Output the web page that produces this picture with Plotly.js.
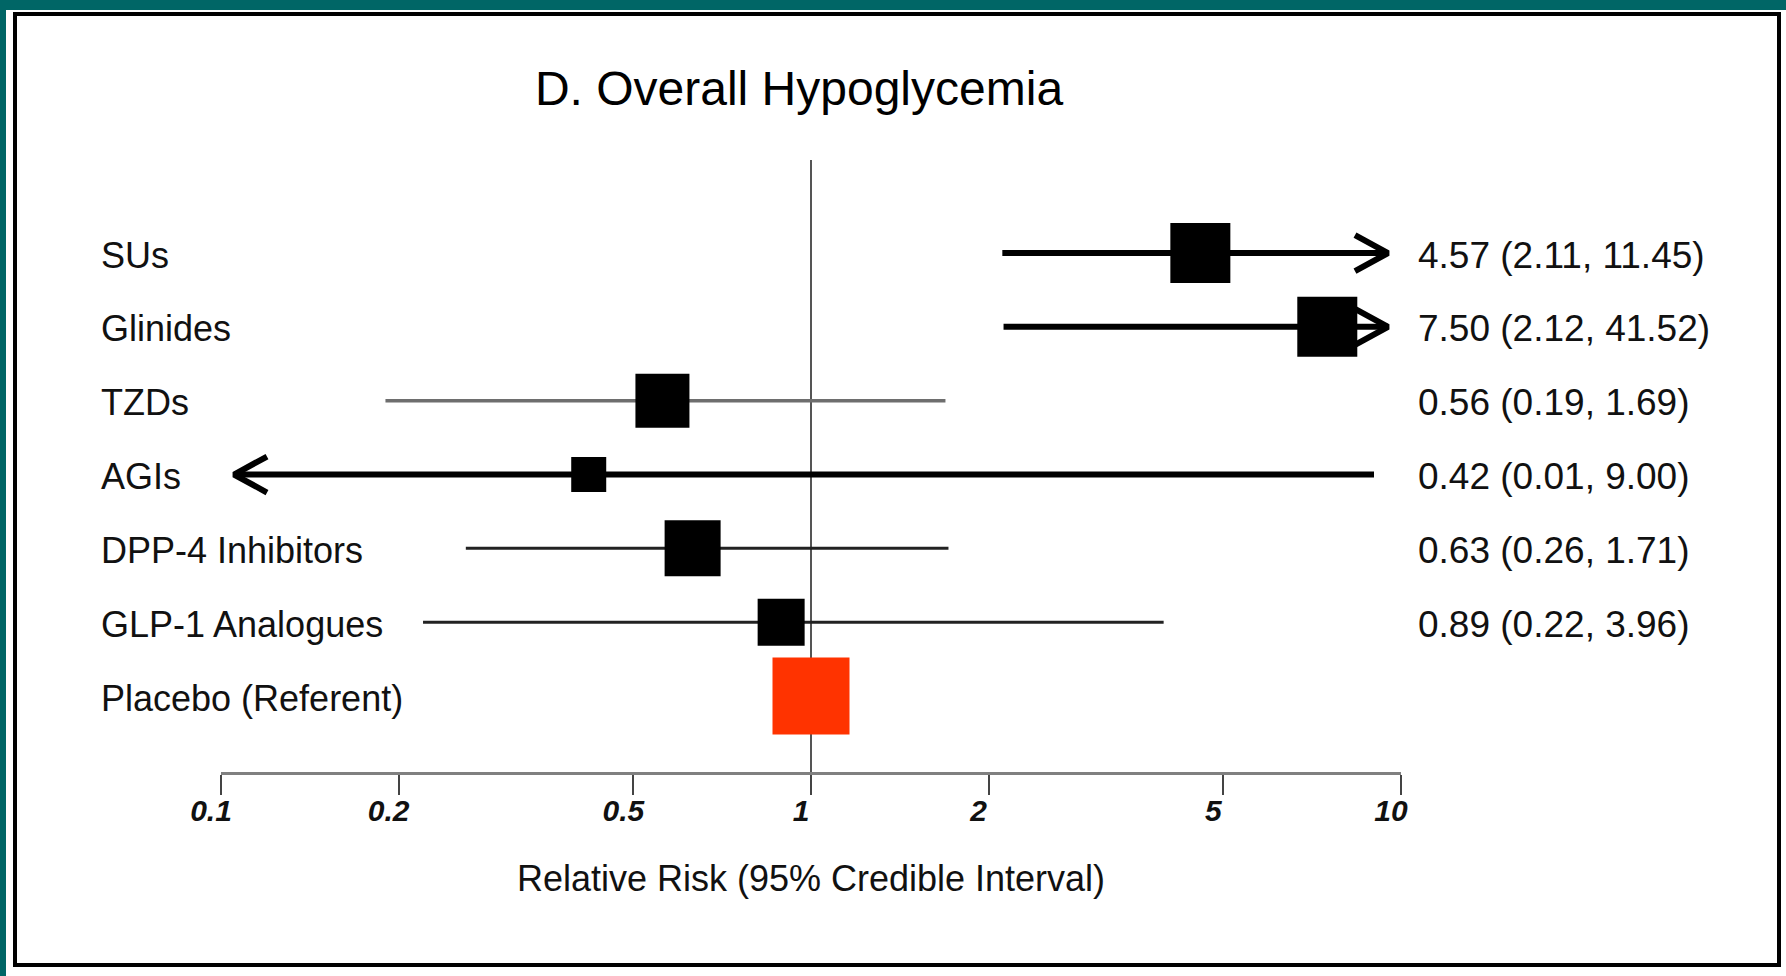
<!DOCTYPE html>
<html><head><meta charset="utf-8">
<script src="https://cdn.plot.ly/plotly-3.0.1.min.js"></script>
<style>html,body{margin:0;padding:0;background:#fff;overflow:hidden}#chart{width:1786px;height:976px}</style>
</head><body><div id="chart"></div>
<script>
// ---------------- data ----------------
const categories = ['SUs', 'Glinides', 'TZDs', 'AGIs', 'DPP-4 Inhibitors', 'GLP-1 Analogues', 'Placebo (Referent)'];
const estimates  = [4.57, 7.50, 0.56, 0.42, 0.63, 0.89, 1];
const lowerCI    = [2.11, 2.12, 0.19, 0.01, 0.26, 0.22, null];
const upperCI    = [11.45, 41.52, 1.69, 9.00, 1.71, 3.96, null];
const tickValues = [0.1, 0.2, 0.5, 1, 2, 5, 10];
const tickLabels = ['0.1', '0.2', '0.5', '1', '2', '5', '10'];
const referent   = 'Placebo (Referent)';
const chartTitle = 'D. Overall Hypoglycemia';
const xTitle     = 'Relative Risk (95% Credible Interval)';

// ---------------- styles / layout ----------------
const W = 1786, H = 976;
const PLOT = {l: 221, r: 1401, t: 160, b: 772};
const AXIS_MIN = 0.1, AXIS_MAX = 10;
const Y_RANGE = [7.029, -1.26];               // reversed: first row at top
const FONT = 'Liberation Sans, Arial, Helvetica, sans-serif';
const MARKER_PX   = [60, 60, 54, 35, 56, 47, 77];
const LINE_COLOR  = ['#000', '#000', '#6e6e6e', '#000', '#222', '#222'];
const LINE_WIDTH  = [6, 6, 3.5, 6, 3, 3];
const REF_COLOR   = '#FF3300';
const ARROW_INSET_PX = 13, ARROW_LEN_PX = 33, ARROW_HALF_PX = 18;

const pxPerDecade = (PLOT.r - PLOT.l) / (Math.log10(AXIS_MAX) - Math.log10(AXIS_MIN));
const pxPerRow = (PLOT.b - PLOT.t) / (Y_RANGE[0] - Y_RANGE[1]);
const px2x = px => (px - PLOT.l) / (PLOT.r - PLOT.l);
const px2y = py => (PLOT.b - py) / (PLOT.b - PLOT.t);

const fmt = v => v.toFixed(2);
const tipHi = AXIS_MAX / Math.pow(10, ARROW_INSET_PX / pxPerDecade);
const tipLo = AXIS_MIN * Math.pow(10, ARROW_INSET_PX / pxPerDecade);
const armK = Math.pow(10, ARROW_LEN_PX / pxPerDecade);
const armDy = ARROW_HALF_PX / pxPerRow;

const traces = [];
// reference line at RR = 1
traces.push({x: [1, 1], y: [Y_RANGE[1], Y_RANGE[0]], mode: 'lines', line: {color: '#555', width: 2}, hoverinfo: 'skip'});

const rowIdx = categories.map((c, i) => i);
categories.forEach((cat, i) => {
  if (cat === referent) return;
  const lo = lowerCI[i], hi = upperCI[i];
  const x0 = Math.max(lo, tipLo), x1 = Math.min(hi, tipHi);
  traces.push({x: [x0, x1], y: [i, i], mode: 'lines',
    line: {color: LINE_COLOR[i], width: LINE_WIDTH[i]}, hoverinfo: 'skip'});
  if (hi > AXIS_MAX) {
    traces.push({x: [tipHi / armK, tipHi, tipHi / armK], y: [i - armDy, i, i + armDy], mode: 'lines',
      line: {color: LINE_COLOR[i], width: LINE_WIDTH[i]}, hoverinfo: 'skip'});
  }
  if (lo < AXIS_MIN) {
    traces.push({x: [tipLo * armK, tipLo, tipLo * armK], y: [i - armDy, i, i + armDy], mode: 'lines',
      line: {color: LINE_COLOR[i], width: LINE_WIDTH[i]}, hoverinfo: 'skip'});
  }
});

const nonRef = rowIdx.filter(i => categories[i] !== referent);
traces.push({x: nonRef.map(i => estimates[i]), y: nonRef, mode: 'markers', opacity: 1,
  marker: {symbol: 'square', color: '#000', opacity: 1, size: nonRef.map(i => MARKER_PX[i]), line: {width: 0}},
  hovertext: nonRef.map(i => categories[i]), hoverinfo: 'text+x'});
const refI = categories.indexOf(referent);
traces.push({x: [estimates[refI]], y: [refI], mode: 'markers', opacity: 1,
  marker: {symbol: 'square', color: REF_COLOR, opacity: 1, size: MARKER_PX[refI], line: {width: 0}},
  hovertext: [referent], hoverinfo: 'text+x'});

const annotations = [];
categories.forEach((cat, i) => {
  annotations.push({text: cat, xref: 'paper', yref: 'y', x: px2x(99), y: i, yshift: -2,
    xanchor: 'left', yanchor: 'middle', showarrow: false,
    font: {family: FONT, size: 36, color: '#111'}});
  if (lowerCI[i] !== null) {
    annotations.push({text: fmt(estimates[i]) + ' (' + fmt(lowerCI[i]) + ', ' + fmt(upperCI[i]) + ')',
      xref: 'paper', yref: 'y', x: px2x(1416), y: i, yshift: -2,
      xanchor: 'left', yanchor: 'middle', showarrow: false,
      font: {family: FONT, size: 37, color: '#111'}});
  }
});

const shapes = [
  {type: 'rect', xref: 'paper', yref: 'paper', x0: px2x(0), x1: px2x(W), y0: px2y(0), y1: px2y(10),
   fillcolor: '#006666', line: {width: 0}, layer: 'below'},
  {type: 'rect', xref: 'paper', yref: 'paper', x0: px2x(0), x1: px2x(6), y0: px2y(0), y1: px2y(H),
   fillcolor: '#006666', line: {width: 0}, layer: 'below'},
  {type: 'rect', xref: 'paper', yref: 'paper', x0: px2x(15), x1: px2x(1779), y0: px2y(14), y1: px2y(965),
   fillcolor: 'rgba(0,0,0,0)', line: {color: '#000', width: 4}, layer: 'below'}
];

const layout = {
  width: W, height: H,
  margin: {l: PLOT.l, r: W - PLOT.r, t: PLOT.t, b: H - PLOT.b, pad: 0},
  paper_bgcolor: '#fff', plot_bgcolor: 'rgba(0,0,0,0)',
  showlegend: false,
  title: {text: chartTitle, font: {family: FONT, size: 48, color: '#000'},
    xref: 'container', x: 799 / W, xanchor: 'center', yref: 'container', y: 1 - 88 / H, yanchor: 'middle'},
  xaxis: {type: 'log', range: [Math.log10(AXIS_MIN), Math.log10(AXIS_MAX)],
    tickmode: 'array', tickvals: tickValues, ticktext: tickLabels,
    ticks: 'outside', ticklen: 20, tickwidth: 2, tickcolor: '#444',
    showline: true, linecolor: '#808080', linewidth: 3,
    showgrid: false, zeroline: false, ticklabelshift: -10, ticklabelstandoff: -10,
    tickfont: {family: FONT, size: 30, weight: 'bold', style: 'italic', color: '#111'},
    title: {text: xTitle, font: {family: FONT, size: 36, color: '#111'}, standoff: 40},
    fixedrange: true},
  yaxis: {range: Y_RANGE, showticklabels: false, showgrid: false, zeroline: false, showline: false,
    ticks: '', fixedrange: true},
  annotations: annotations,
  shapes: shapes
};

Plotly.newPlot('chart', traces, layout, {displayModeBar: false, responsive: false});
</script></body></html>
